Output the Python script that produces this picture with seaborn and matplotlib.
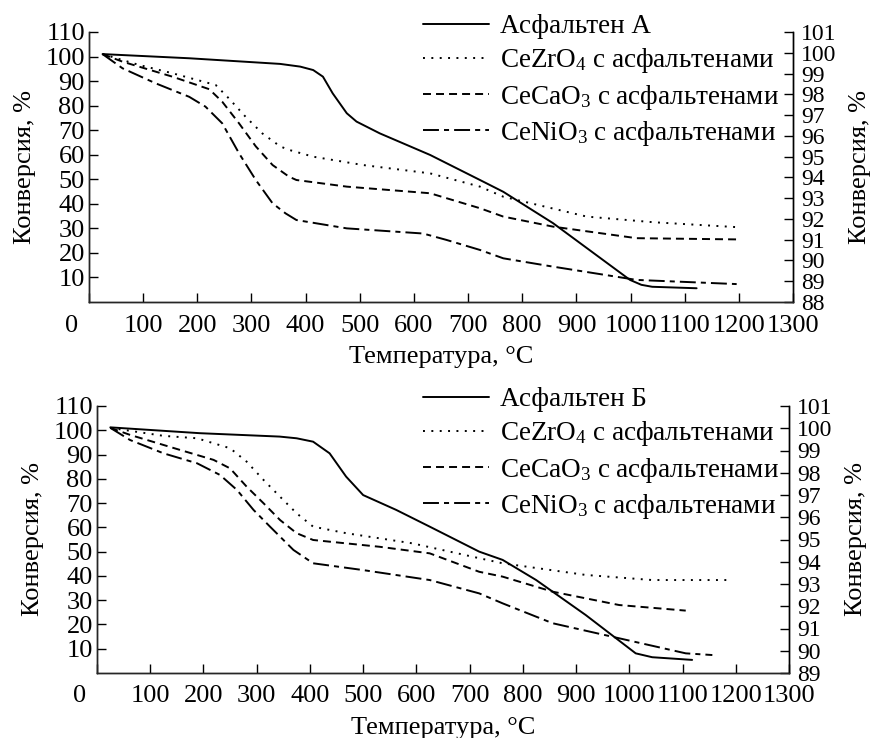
import numpy as np
import pandas as pd
import matplotlib
matplotlib.use("Agg")
import matplotlib.pyplot as plt
import matplotlib.transforms as mtransforms
import seaborn as sns

# ---------------- data ----------------
# Top panel: Асфальтен А
a_asph_T = [25, 185, 353, 390, 414, 432, 450, 476, 494, 537, 630, 722, 765, 857, 999, 1020, 1040, 1122]
a_asph_Y = [101, 99.3, 97.0, 95.9, 94.5, 91.8, 85.0, 76.9, 73.5, 68.7, 59.9, 49.7, 44.9, 32.1, 9.0, 7.0, 6.2, 5.6]

a_zr_T = [25, 92, 154, 234, 258, 289, 320, 353, 369, 414, 506, 630, 722, 765, 919, 1042, 1196]
a_zr_Y = [101, 96.6, 93.2, 88.4, 83.0, 75.5, 68.7, 63.4, 62.0, 59.2, 55.8, 52.4, 47.0, 42.9, 34.8, 32.5, 30.5]

a_ca_T = [25, 62, 154, 222, 246, 277, 308, 339, 369, 383, 476, 630, 660, 722, 765, 857, 1011, 1196]
a_ca_Y = [101, 97.9, 91.8, 86.7, 81.6, 72.8, 63.4, 55.8, 51.1, 49.7, 47.0, 44.3, 42.3, 38.2, 34.8, 30.7, 26.0, 25.5]

a_ni_T = [25, 62, 123, 185, 215, 246, 277, 308, 339, 363, 383, 476, 617, 660, 722, 765, 857, 1011, 1196]
a_ni_Y = [101, 95.2, 89.1, 83.6, 79.6, 72.8, 60.6, 49.7, 40.2, 36.1, 33.4, 30.0, 27.9, 25.3, 21.2, 17.8, 14.4, 9.0, 7.3]

# Bottom panel: Асфальтен Б
b_asph_T = [25, 193, 343, 375, 406, 437, 468, 500, 562, 625, 718, 762, 825, 918, 1012, 1043, 1118]
b_asph_Y = [101.2, 98.8, 97.4, 96.7, 95.3, 90.5, 80.9, 73.3, 67.2, 60.3, 50.0, 46.6, 38.3, 23.9, 8.1, 6.5, 5.4]

b_zr_T = [25, 125, 188, 250, 281, 313, 344, 375, 406, 468, 593, 718, 762, 918, 1043, 1187]
b_zr_Y = [101, 97.7, 96.7, 92.6, 87.1, 79.5, 72.6, 65.8, 60.3, 57.6, 53.4, 47.3, 45.2, 40.4, 38.3, 38.3]

b_ca_T = [25, 62, 156, 219, 250, 281, 313, 344, 375, 406, 531, 625, 718, 762, 856, 981, 1106]
b_ca_Y = [101, 98.1, 91.9, 87.8, 84.3, 76.8, 69.9, 63.0, 57.6, 54.8, 52.0, 49.3, 41.7, 39.7, 33.5, 28.0, 25.7]

b_ni_T = [25, 62, 125, 188, 231, 263, 294, 325, 369, 406, 500, 625, 718, 762, 856, 981, 1106, 1156]
b_ni_Y = [101, 96.0, 90.5, 86.4, 81.6, 75.4, 67.2, 60.3, 50.7, 45.2, 42.4, 38.3, 32.8, 28.7, 20.5, 14.3, 8.1, 7.4]

x_ticks = [0, 100, 200, 300, 400, 500, 600, 700, 800, 900, 1000, 1100, 1200, 1300]
y_left_ticks = [10, 20, 30, 40, 50, 60, 70, 80, 90, 100, 110]
y_right_top = list(range(88, 102))
y_right_bot = list(range(89, 102))

labels_top = ["Асфальтен А", "CeZrO$_4$ с асфальтенами",
              "CeCaO$_3$ с асфальтенами", "CeNiO$_3$ с асфальтенами"]
labels_bot = ["Асфальтен Б", "CeZrO$_4$ с асфальтенами",
              "CeCaO$_3$ с асфальтенами", "CeNiO$_3$ с асфальтенами"]

xlabel = "Температура, °C"
ylabel = "Конверсия, %"

# ---------------- style ----------------
sns.set_theme(style="ticks")
SERIF = "Liberation Serif"
plt.rcParams["font.family"] = SERIF
plt.rcParams["font.serif"] = [SERIF]
plt.rcParams["mathtext.fontset"] = "custom"
plt.rcParams["mathtext.rm"] = SERIF
plt.rcParams["mathtext.it"] = SERIF + ":italic"
plt.rcParams["mathtext.bf"] = SERIF + ":bold"
plt.rcParams["axes.linewidth"] = 1.0
FS = 19
FS_LEG = 19.5
FS_R = 17

styles = [
    "-",
    (0, (1, 3.3)),
    (0, (4.1, 2.6)),
    (0, (8.2, 2.6, 2.6, 2.6)),
]

fig = plt.figure(figsize=(8.71, 7.38), dpi=100)
W, H = 871, 738


def make_panel(rect_px, series, labels, yr_ticks, yr_lim, legend_px):
    l, t, r, b = rect_px
    ax = fig.add_axes([l / W, 1 - b / H, (r - l) / W, (b - t) / H])
    for (T, Y), lab, ls in zip(series, labels, styles):
        sns.lineplot(x=T, y=Y, ax=ax, color="black", linestyle=ls,
                     linewidth=1.4, label=lab, sort=False, estimator=None)
    ax.set_xlim(0, 1300)
    ax.set_ylim(0, 110)
    ax.set_xticks(x_ticks)
    ax.set_xticklabels([str(v) for v in x_ticks], family=SERIF, fontsize=FS)
    ax.set_yticks(y_left_ticks)
    ax.set_yticklabels([str(v) for v in y_left_ticks], family=SERIF, fontsize=FS)
    ax.tick_params(direction="in", length=6.5, width=1.0, colors="black")
    ax.tick_params(axis="x", pad=9)
    ax.tick_params(axis="y", pad=3)
    ax.spines["top"].set_visible(False)
    for s in ("left", "bottom", "right"):
        ax.spines[s].set_color("black")
    ax.set_xlabel(xlabel, fontsize=FS, color="black", labelpad=7, family=SERIF)
    ax.set_ylabel(ylabel, fontsize=FS, color="black", labelpad=7, family=SERIF)
    # shift the "0" label to the left as in the reference
    lbl0 = ax.get_xticklabels()[0]
    lbl0.set_transform(lbl0.get_transform() +
                       mtransforms.ScaledTranslation(-17 / 100, 0, fig.dpi_scale_trans))

    ax2 = ax.twinx()
    ax2.set_ylim(*yr_lim)
    ax2.set_yticks(yr_ticks)
    ax2.set_yticklabels([str(v) for v in yr_ticks], family=SERIF, fontsize=FS_R)
    ax2.tick_params(direction="in", length=6.5, width=1.0, colors="black", pad=6)
    ax2.spines["top"].set_visible(False)
    ax2.spines["right"].set_color("black")
    ax2.set_ylabel(ylabel, fontsize=FS, color="black", labelpad=9, family=SERIF)

    h, lb = ax.get_legend_handles_labels()
    if ax.get_legend():
        ax.get_legend().remove()
    lx, ly = legend_px
    leg = fig.legend(h, lb, loc="upper left",
                     bbox_to_anchor=(lx / W, 1 - ly / H),
                     frameon=False, prop={"family": SERIF, "size": FS_LEG},
                     handlelength=2.45, handletextpad=0.4, labelspacing=0.27,
                     borderaxespad=0, borderpad=0)
    for txt in leg.get_texts():
        txt.set_color("black")
    return ax


make_panel((89, 32, 793, 302),
           [(a_asph_T, a_asph_Y), (a_zr_T, a_zr_Y), (a_ca_T, a_ca_Y), (a_ni_T, a_ni_Y)],
           labels_top, y_right_top, (88, 101), (423, 14))
make_panel((97, 406, 789, 673),
           [(b_asph_T, b_asph_Y), (b_zr_T, b_zr_Y), (b_ca_T, b_ca_Y), (b_ni_T, b_ni_Y)],
           labels_bot, y_right_bot, (89, 101), (423, 387))

fig.savefig("out.png", dpi=100, facecolor="white")
